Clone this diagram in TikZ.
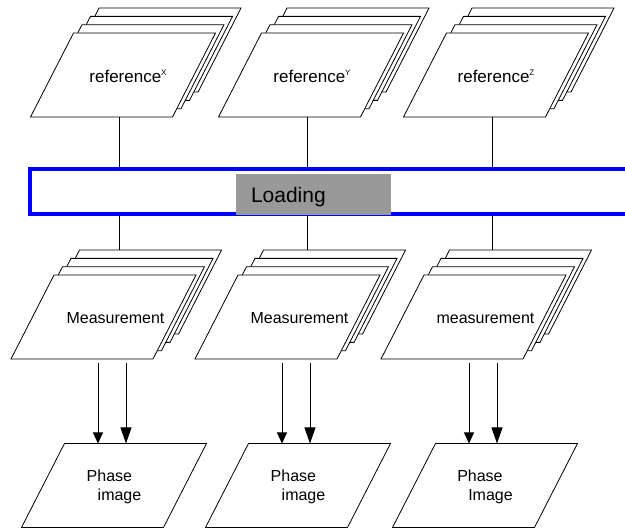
\documentclass[tikz,border=0pt]{standalone}
\usepackage{fontspec}
\setmainfont{Liberation Sans}
\usetikzlibrary{arrows.meta, calc}
\definecolor{loadgray}{RGB}{153,153,153}
\tikzstyle{page-line} = [draw=black, fill=white, line width=0.8pt]
\tikzstyle{page-text} = [inner sep=0pt, font=\fontsize{16}{19}\selectfont]
\tikzstyle{band} = [rectangle, draw=blue, line width=4pt, minimum width=610pt, minimum height=45pt]
\tikzstyle{load-box} = [rectangle, fill=loadgray, minimum width=155pt, minimum height=41pt, text width=125pt, text height=17pt, text depth=0pt, inner xsep=15pt, align=left, font=\fontsize{21}{24}\selectfont]
\tikzstyle{link} = [line width=0.8pt]
\tikzstyle{arrow-s} = [line width=1pt, -{Triangle[length=11pt,width=10pt]}, shorten <=4pt]
\tikzstyle{arrow-l} = [line width=1pt, -{Triangle[length=16pt,width=11pt]}, shorten <=4pt]
\tikzset{
    sheet/.pic={
        \draw[page-line] (-92.5,42) -- (49.5,42) -- (92.5,-42) -- (-49.5,-42) -- cycle;
        \coordinate (-top) at (0,-42);
        \coordinate (-bot) at (0,42);
    }
}
\newcommand{\refsup}[1]{\raisebox{7pt}{\fontsize{8}{8}\selectfont #1}}

\begin{document}
\begin{tikzpicture}[x=1pt, y=-1pt]
\useasboundingbox (0,0) rectangle (625,529);
\clip (0,0) rectangle (625,529);

% sheets behind the front ones
\foreach \n/\cx in {X/123, Y/311, Z/496}
  \foreach \k in {3,2,1}
    \pic (ref\n-\k) at (\cx+8.5*\k, 75-8.3*\k) {sheet};
\foreach \n/\cx in {X/103.5, Y/287.5, Z/473.5}
  \foreach \k in {3,2,1}
    \pic (meas\n-\k) at (\cx+8.5*\k, 317-8.3*\k) {sheet};

% front sheets
\pic (refX) at (123,75) {sheet};
\pic (refY) at (311,75) {sheet};
\pic (refZ) at (496,75) {sheet};
\node[page-text, font=\fontsize{17}{19}\selectfont] (refX-txt) at (128,76) {reference\refsup{X}};
\node[page-text, font=\fontsize{17}{19}\selectfont] (refY-txt) at (312,76) {reference\refsup{Y}};
\node[page-text, font=\fontsize{17}{19}\selectfont] (refZ-txt) at (496,76) {reference\refsup{Z}};

\pic (measX) at (103.5,317) {sheet};
\pic (measY) at (287.5,317) {sheet};
\pic (measZ) at (473.5,317) {sheet};
\node[page-text] (measX-txt) at (115.5,318) {Measurement};
\node[page-text] (measY-txt) at (299.5,318) {Measurement};
\node[page-text] (measZ-txt) at (485.5,318) {measurement};

\pic (phaseX) at (114,485.5) {sheet};
\pic (phaseY) at (298,485.5) {sheet};
\pic (phaseZ) at (485,485.5) {sheet};
\node[page-text, align=left] (phaseX-txt) at (114,487) {Phase\\\hspace*{11pt}image};
\node[page-text, align=left] (phaseY-txt) at (298,487) {Phase\\\hspace*{11pt}image};
\node[page-text, align=left] (phaseZ-txt) at (485,487) {Phase\\\hspace*{11pt}Image};

% loading band
\node[band] (band) at (335,191.5) {};

\foreach \n in {X,Y,Z} {
  \draw[link] ([xshift=-4pt]ref\n-bot) -- ([xshift=-4pt]ref\n-bot |- band.north);
  \draw[link] ([xshift=-4pt]ref\n-bot |- band.south) -- ([xshift=-4pt]ref\n-bot |- meas\n-3-top);
  \draw[arrow-s] ([xshift=-16pt]phase\n-top |- meas\n-bot) -- ([xshift=-16pt]phase\n-top);
  \draw[arrow-l] ([xshift=12pt]phase\n-top |- meas\n-bot) -- ([xshift=12pt]phase\n-top);
}

\node[load-box] (load) at (313.5,194.5) {Loading};

\end{tikzpicture}
\end{document}
